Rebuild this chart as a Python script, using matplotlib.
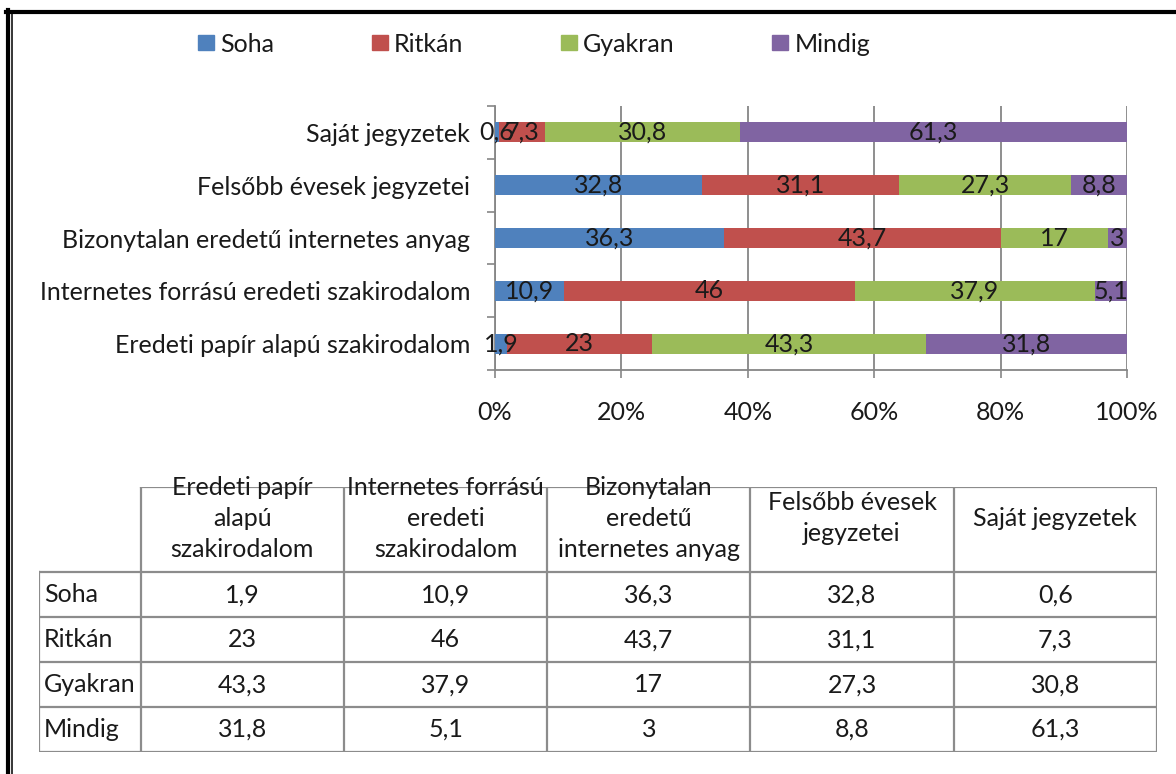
import numpy as np
import matplotlib
matplotlib.use("Agg")
import matplotlib.pyplot as plt
from matplotlib.patches import Patch
from matplotlib.lines import Line2D

plt.rcParams['font.family'] = ['Lato', 'DejaVu Sans']

categories = ['Eredeti papír alapú szakirodalom',
              'Internetes forrású eredeti szakirodalom',
              'Bizonytalan eredetű internetes anyag',
              'Felsőbb évesek jegyzetei',
              'Saját jegyzetek']
table_headers = ['Eredeti papír\nalapú\nszakirodalom',
                 'Internetes forrású\neredeti\nszakirodalom',
                 'Bizonytalan\neredetű\ninternetes anyag',
                 'Felsőbb évesek\njegyzetei',
                 'Saját jegyzetek']
series_names = ['Soha', 'Ritkán', 'Gyakran', 'Mindig']
soha = [1.9, 10.9, 36.3, 32.8, 0.6]
ritkan = [23, 46, 43.7, 31.1, 7.3]
gyakran = [43.3, 37.9, 17, 27.3, 30.8]
mindig = [31.8, 5.1, 3, 8.8, 61.3]
xticks = [0, 20, 40, 60, 80, 100]

series_colors = ['#4F81BD', '#C0504D', '#9BBB59', '#8064A2']
grid_gray = '#868686'
text_col = '#1a1a1a'
FS = 18

W, H = 1176, 774
fig = plt.figure(figsize=(W / 100, H / 100), dpi=100)


def fx(px):
    return px / W


def fy(py):
    return 1 - py / H


def fmt(v):
    return f"{v:g}".replace('.', ',')


# ---- stacked 100% bar chart ----
ax = fig.add_axes([fx(495), fy(370), fx(1127) - fx(495), fy(106) - fy(370)])
data = np.array([soha, ritkan, gyakran, mindig], dtype=float)
pct = data / data.sum(axis=0) * 100
y = np.arange(len(categories))
left = np.zeros(len(categories))
for i, name in enumerate(series_names):
    ax.barh(y, pct[i], height=0.38, left=left, color=series_colors[i],
            label=name, zorder=3)
    for j in range(len(categories)):
        ax.text(left[j] + pct[i][j] / 2, y[j], fmt(data[i][j]),
                ha='center', va='center', fontsize=FS, color=text_col, zorder=4)
    left += pct[i]

ax.set_xlim(0, 100)
ax.set_ylim(-0.5, len(categories) - 0.5)
ax.set_xticks(xticks)
ax.set_xticklabels([f"{t}%" for t in xticks], fontsize=FS, color=text_col)
ax.set_yticks(y)
ax.set_yticklabels(categories, fontsize=FS, color=text_col)
ax.set_yticks(np.arange(-0.5, len(categories)), minor=True)
ax.tick_params(axis='y', which='major', length=0, pad=18)
ax.tick_params(axis='y', which='minor', length=6, width=1.2, color=grid_gray)
ax.tick_params(axis='x', length=6, width=1.2, color=grid_gray, pad=16)
ax.grid(axis='x', color=grid_gray, lw=1.3, zorder=0)
for s in ['top', 'right']:
    ax.spines[s].set_visible(False)
for s in ['left', 'bottom']:
    ax.spines[s].set_color(grid_gray)
    ax.spines[s].set_linewidth(1.3)

handles = [Patch(color=c, label=n) for c, n in zip(series_colors, series_names)]
leg = fig.legend(handles=handles, loc='center', bbox_to_anchor=(fx(534), fy(44)),
                 ncol=4, frameon=False, fontsize=FS, handlelength=0.64,
                 handleheight=0.56, handletextpad=0.25, columnspacing=3.9)
for t in leg.get_texts():
    t.set_color(text_col)

# ---- data table ----
tab = fig.add_axes([fx(39), fy(752), fx(1157) - fx(39), fy(487) - fy(752)])
col_w = [0.5] + [1] * len(categories)
col_edges = np.concatenate([[0], np.cumsum(col_w)])
head_h = 1.9
n_rows = len(series_names)
tab.set_xlim(0, col_edges[-1])
tab.set_ylim(-n_rows, head_h)
tab.axis('off')
line_kw = dict(color='#8c8c8c', lw=1.6, solid_capstyle='projecting')

# horizontal lines
tab.plot([col_edges[1], col_edges[-1]], [head_h, head_h], **line_kw)
for r in range(n_rows + 1):
    tab.plot([0, col_edges[-1]], [-r, -r], **line_kw)
# vertical lines
tab.plot([0, 0], [0, -n_rows], **line_kw)
for e in col_edges[1:]:
    tab.plot([e, e], [head_h, -n_rows], **line_kw)

for c, head in enumerate(table_headers):
    cx = (col_edges[c + 1] + col_edges[c + 2]) / 2
    tab.text(cx, 1.2, head, ha='center', va='center', fontsize=FS,
             linespacing=1.42, color=text_col)
for r, name in enumerate(series_names):
    cy = -r - 0.5
    tab.text(0.025, cy, name, ha='left', va='center', fontsize=FS, color=text_col)
    for c in range(len(categories)):
        cx = (col_edges[c + 1] + col_edges[c + 2]) / 2
        tab.text(cx, cy, fmt(data[r][c]), ha='center', va='center',
                 fontsize=FS, color=text_col)

# ---- outer frame ----
fig.add_artist(Line2D([fx(6), 1], [fy(12), fy(12)], color='black', lw=3,
                      transform=fig.transFigure))
fig.add_artist(Line2D([fx(8), fx(8)], [fy(10), 0], color='black', lw=3,
                      transform=fig.transFigure))
fig.add_artist(Line2D([fx(11.8), fx(11.8)], [fy(12), 0], color='black', lw=1.1,
                      transform=fig.transFigure))

fig.savefig('out.png', dpi=100)
